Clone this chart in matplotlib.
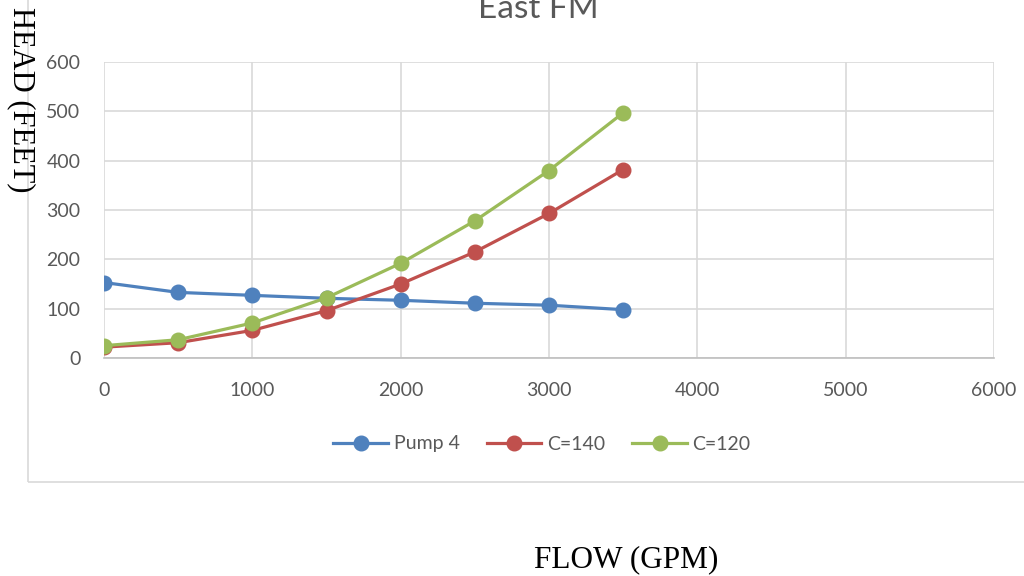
import matplotlib.pyplot as plt
from matplotlib.patches import Rectangle

# Data
flow = [0, 500, 1000, 1500, 2000, 2500, 3000, 3500]
pump4 = [153, 133, 127, 121, 117, 111, 107, 98]
c140 = [22, 31, 56, 96, 150, 215, 293, 382]
c120 = [25, 37, 71, 122, 192, 278, 380, 497]

x_ticks = [0, 1000, 2000, 3000, 4000, 5000, 6000]
y_ticks = [0, 100, 200, 300, 400, 500, 600]

txt = '#595959'
grid = '#D9D9D9'

fig = plt.figure(figsize=(10.24, 5.76), dpi=100)

# chart area border
fig.patches.append(Rectangle((28 / 1024, 1 - 482 / 576), 1.2, 1.2,
                             transform=fig.transFigure, fill=False,
                             edgecolor=grid, linewidth=1.2))

ax = fig.add_axes([104 / 1024, 1 - 358 / 576, 890 / 1024, 296 / 576])

ax.plot(flow, pump4, marker='o', color='#4F81BD', linewidth=2.3, markersize=10.5, label='Pump 4', zorder=3)
ax.plot(flow, c140, marker='o', color='#C0504D', linewidth=2.3, markersize=10.5, label='C=140', zorder=4)
ax.plot(flow, c120, marker='o', color='#9BBB59', linewidth=2.3, markersize=10.5, label='C=120', zorder=5)

ax.set_xlim(0, 6000)
ax.set_ylim(0, 600)
ax.set_xticks(x_ticks)
ax.set_yticks(y_ticks)
ax.grid(True, color=grid, linewidth=1.2)
ax.set_axisbelow(True)
for s in ['top', 'right', 'left']:
    ax.spines[s].set_visible(False)
ax.spines['bottom'].set_color('#BFBFBF')
ax.spines['bottom'].set_linewidth(1.2)
ax.tick_params(length=0, pad=17, labelsize=14, labelcolor=txt)
for lab in ax.get_xticklabels() + ax.get_yticklabels():
    lab.set_fontfamily('Lato')

leg = ax.legend(loc='center', bbox_to_anchor=(542 / 1024, 1 - 444 / 576),
                bbox_transform=fig.transFigure, ncol=3, frameon=False,
                handlelength=2.8, columnspacing=1.4, handletextpad=0.3,
                prop={'family': 'Lato', 'size': 14})
for t in leg.get_texts():
    t.set_color(txt)

fig.text(538 / 1024, 1 - 18 / 576, 'East FM', ha='center', va='baseline',
         fontsize=24, color=txt, family='Lato')
fig.text(21 / 1024, 1 - 100 / 576, 'HEAD (FEET)', rotation=270, ha='center', va='center',
         fontsize=22, family='Liberation Serif')
fig.text(626 / 1024, 1 - 560 / 576, 'FLOW (GPM)', ha='center', va='center',
         fontsize=22.5, family='Liberation Serif')

fig.savefig('out.png', dpi=100)
